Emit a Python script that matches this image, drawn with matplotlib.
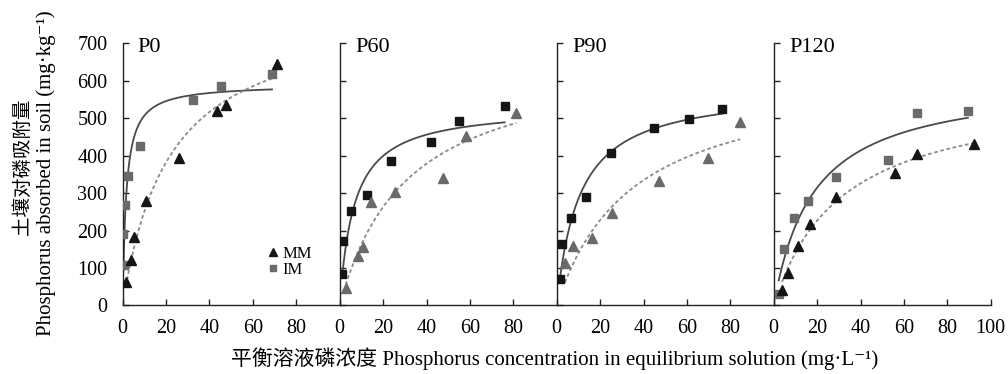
import matplotlib
matplotlib.use("Agg")
import matplotlib.pyplot as plt
import numpy as np

plt.rcParams['font.family'] = ['Liberation Serif', 'Noto Sans CJK SC', 'DejaVu Serif']

panels = ['P0', 'P60', 'P90', 'P120']

# MM (triangles) and IM (squares)
mm_x = [
    [1.5, 3.7, 5.1, 10.9, 25.8, 43.5, 47.8, 71.2],
    [2.8, 8.6, 10.6, 14.5, 25.7, 47.7, 58.2, 81.4],
    [3.8, 7.7, 16.2, 25.7, 47.2, 69.5, 84.5],
    [3.8, 6.8, 11.4, 16.6, 28.8, 55.7, 66.0, 92.2],
]
mm_y = [
    [62, 121, 182, 280, 395, 519, 536, 646],
    [46, 133, 157, 276, 302, 341, 453, 515],
    [113, 159, 179, 248, 332, 393, 491],
    [41, 86, 159, 217, 290, 354, 406, 431],
]
im_x = [
    [0.6, 0.3, 1.2, 2.3, 8.2, 32.3, 45.2, 68.8],
    [1.1, 1.7, 5.4, 12.8, 23.7, 42.2, 55.1, 76.0],
    [1.5, 2.6, 6.8, 13.7, 24.9, 44.6, 60.8, 76.3],
    [2.3, 4.6, 9.5, 15.8, 28.8, 52.8, 66.2, 89.5],
]
im_y = [
    [107, 191, 268, 346, 427, 548, 587, 619],
    [83, 173, 253, 295, 387, 438, 494, 533],
    [72, 164, 235, 291, 407, 475, 497, 526],
    [32, 152, 233, 280, 344, 388, 515, 520],
]

BLACK = '#151515'
GRAY = '#6a6a6a'
mm_color = [BLACK, GRAY, GRAY, BLACK]
im_color = [GRAY, BLACK, BLACK, GRAY]


def langmuir_fit(x, y):
    # least squares Langmuir fit: y = Qm*K*x/(1+K*x)
    x = np.asarray(x, float)
    y = np.asarray(y, float)
    best = None
    for k in np.logspace(-3, 1.5, 3000):
        f = k * x / (1 + k * x)
        qm = np.sum(y * f) / np.sum(f * f)
        err = np.sum((y - qm * f) ** 2)
        if best is None or err < best[0]:
            best = (err, qm, k)
    return best[1], best[2]


fig = plt.figure(figsize=(10.08, 3.74), dpi=100)
left, width = 0.1217, 0.2153
bottom, height = 0.1832, 0.7005

for i, name in enumerate(panels):
    ax = fig.add_axes([left + i * width, bottom, width, height])
    for xs, ys, ls, lc in [(im_x[i], im_y[i], '-', '#4a4a4a'),
                           (mm_x[i], mm_y[i], (0, (2, 1.5)), '#8a8a8a')]:
        qm, k = langmuir_fit(xs, ys)
        xx = np.linspace(min(xs), max(xs), 300)
        ax.plot(xx, qm * k * xx / (1 + k * xx), ls=ls, color=lc, lw=1.3, zorder=2)
    ax.plot(im_x[i], im_y[i], 's', color=im_color[i], ms=6, ls='none', zorder=3, label='IM')
    ax.plot(mm_x[i], mm_y[i], '^', color=mm_color[i], ms=7.5, ls='none', zorder=3, label='MM')

    ax.set_xlim(0, 100)
    ax.set_ylim(0, 700)
    ax.spines['top'].set_visible(False)
    ax.spines['right'].set_visible(False)
    for s in ['left', 'bottom']:
        ax.spines[s].set_color('#222222')
        ax.spines[s].set_linewidth(1.0)
    ax.set_xticks([0, 20, 40, 60, 80, 100] if i == 3 else [0, 20, 40, 60, 80])
    ax.set_yticks(range(0, 701, 100))
    ax.tick_params(direction='in', length=4, width=1, labelsize=14.5, color='#222222')
    ax.tick_params(axis='x', pad=10)
    ax.tick_params(axis='y', pad=11)
    if i > 0:
        ax.tick_params(axis='y', labelleft=False)
    ax.patch.set_alpha(0)
    ax.text(0.07, 0.983, name, transform=ax.transAxes, fontsize=16, va='center', ha='left')

    if i == 0:
        h, l = ax.get_legend_handles_labels()
        ax.legend([h[1], h[0]], ['MM', 'IM'], loc='center left', bbox_to_anchor=(0.63, 0.165),
                  frameon=False, fontsize=12, handlelength=0.6, handletextpad=0.3,
                  labelspacing=0.0, markerscale=0.8, borderpad=0)

fig.text(22 / 1008, 0.555, '土壤对磷吸附量', rotation=90, fontsize=14, ha='center', va='center')
fig.text(46 / 1008, 0.537, 'Phosphorus absorbed in soil (mg·kg⁻¹)', rotation=90,
         fontsize=15, ha='center', va='center')
fig.text(555 / 1008, 0.042, '平衡溶液磷浓度 Phosphorus concentration in equilibrium solution (mg·L⁻¹)',
         fontsize=15, ha='center', va='center')

fig.savefig('out.png', dpi=100)
